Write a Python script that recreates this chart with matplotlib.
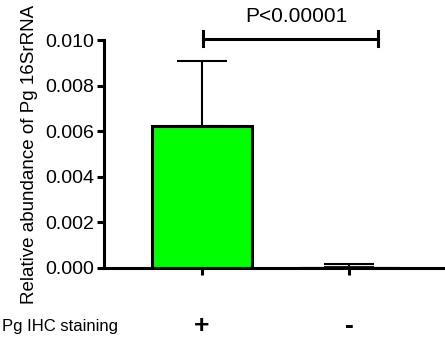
import matplotlib.pyplot as plt

plt.rcParams["font.family"] = ["Liberation Sans", "DejaVu Sans"]

groups = ["+", "-"]
means = [0.00623, 0.00005]
errors = [0.00285, 0.00013]
bar_colors = ["#00ff00", "#ffffff"]
p_text = "P<0.00001"
row_label = "Pg IHC staining"
y_label = "Relative abundance of Pg 16SrRNA"
y_ticks = [0.000, 0.002, 0.004, 0.006, 0.008, 0.010]

fig = plt.figure(figsize=(4.45, 3.44), dpi=100)
ax = fig.add_axes([104 / 445, 1 - 268 / 344, 341 / 445, 228 / 344])

x = [0, 1]
ax.bar(x, means, width=0.68, color=bar_colors, edgecolor=["black", "#9a9a9a"],
       linewidth=[2.2, 1.0], zorder=2)
ax.errorbar(x, means, yerr=[[0, 0], errors], fmt="none", ecolor="black",
            elinewidth=1.5, capsize=18, capthick=1.5, zorder=1)

ax.set_xlim(-0.667, 1.653)
ax.set_ylim(0, 0.010)
ax.set_yticks(y_ticks, [f"{t:.3f}" for t in y_ticks])
ax.set_xticks(x, groups, fontsize=19, fontweight="bold")

for side in ("top", "right"):
    ax.spines[side].set_visible(False)
for side in ("left", "bottom"):
    ax.spines[side].set_linewidth(2.2)
    ax.spines[side].set_zorder(3)
ax.tick_params(axis="y", labelsize=14, width=2.2, length=5, pad=2)
ax.tick_params(axis="x", width=2.2, length=5, pad=28)
ax.set_ylabel(y_label, fontsize=13.5, labelpad=5)

# significance bracket
ax.plot([0.007, 1.197], [0.01005, 0.01005], color="black", lw=2.2, clip_on=False)
for xe in (0.007, 1.197):
    ax.plot([xe, xe], [0.00972, 0.01038], color="black", lw=2.2, clip_on=False)
ax.text(0.64, 0.01080, p_text, ha="center", va="baseline", fontsize=15, clip_on=False)

fig.text(2 / 445, 1 - 326 / 344, row_label, ha="left", va="center", fontsize=12)

fig.savefig("out.png", dpi=100)
